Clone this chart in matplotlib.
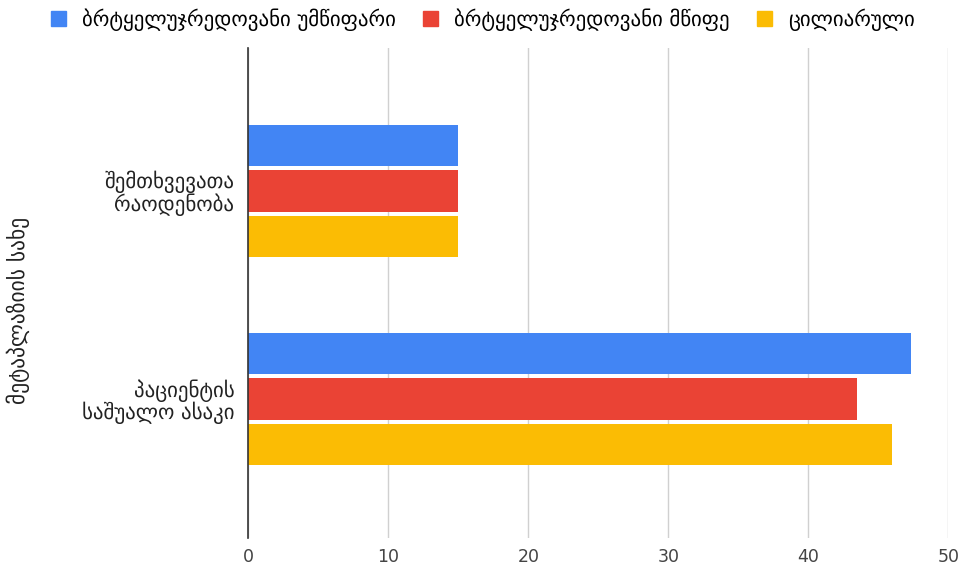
import matplotlib
matplotlib.use("Agg")
import matplotlib.pyplot as plt
import numpy as np
from matplotlib.patches import Patch

categories = ["შემთხვევათა\nრაოდენობა", "პაციენტის\nსაშუალო ასაკი"]
series_names = ["ბრტყელუჯრედოვანი უმწიფარი", "ბრტყელუჯრედოვანი მწიფე", "ცილიარული"]
immature = [15, 47.3]
mature = [15, 43.5]
ciliated = [15, 46]
colors = ["#4285F4", "#EA4335", "#FBBC04"]
x_ticks = [0, 10, 20, 30, 40, 50]
y_title = "მეტაპლაზიის სახე"

plt.rcParams['font.family'] = ['DejaVu Sans']

fig = plt.figure(figsize=(9.65, 5.71), dpi=100)
ax = fig.add_axes([248.3/965, 1 - 538/571, (948.3-248.3)/965, (538-48)/571])

series = [immature, mature, ciliated]
y = np.arange(len(categories))
pitch = 0.219
h = 0.2
for i, (vals, c, name) in enumerate(zip(series, colors, series_names)):
    ax.barh(y + (i - 1) * pitch, vals, height=h, color=c, label=name, zorder=3)

ax.set_xlim(0, 50)
ax.set_ylim(1.668, -0.6875)
ax.set_xticks(x_ticks)
ax.set_yticks(y)
ax.set_yticklabels(categories, fontsize=15, color="#222222", ha="right",
                   multialignment="right", linespacing=1.0)
ax.tick_params(axis='y', length=0, pad=10)
ax.tick_params(axis='x', length=0, pad=7, labelsize=12.5, labelcolor="#444444")
ax.grid(axis='x', color="#d0d0d0", linewidth=1, zorder=0)
for s in ["top", "right", "bottom"]:
    ax.spines[s].set_visible(False)
ax.spines["left"].set_color("#333333")
ax.spines["left"].set_linewidth(1.2)
ax.spines["left"].set_zorder(4)

fig.text(18/965, 1 - 310/571, y_title, rotation=90, va="center", ha="center", fontsize=15.5, color="#222222")

handles = [Patch(facecolor=c, edgecolor=c) for c in colors]
fig.legend(handles, series_names, ncol=3, loc="upper left", bbox_to_anchor=(0.033, 1.018),
           frameon=False, handlelength=0.75, handleheight=0.75, fontsize=15,
           columnspacing=1.3, handletextpad=0.75)

fig.savefig("out.png", dpi=100)
